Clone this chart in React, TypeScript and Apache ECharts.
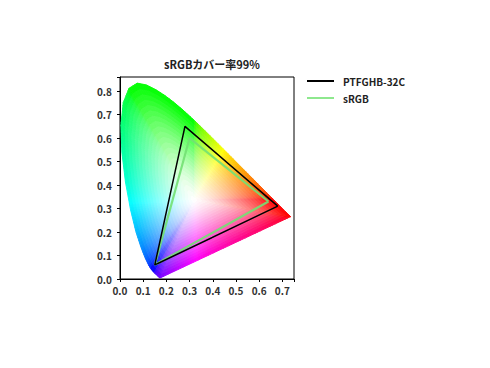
import React, { useEffect, useRef } from "react";
import * as echarts from "echarts";

// CIE 1931 2° spectral locus chromaticity (380–700 nm)
const LOCUS_X = [
  0.1741, 0.174, 0.1738, 0.1736, 0.1733, 0.173, 0.1726, 0.1721, 0.1714, 0.1703,
  0.1689, 0.1669, 0.1644, 0.1611, 0.1566, 0.151, 0.144, 0.1355, 0.1241, 0.1096,
  0.0913, 0.0687, 0.0454, 0.0235, 0.0082, 0.0039, 0.0139, 0.0389, 0.0743, 0.1142,
  0.1547, 0.1929, 0.2296, 0.2658, 0.3016, 0.3373, 0.3731, 0.4087, 0.4441, 0.4788,
  0.5125, 0.5448, 0.5752, 0.6029, 0.627, 0.6482, 0.6658, 0.6801, 0.6915, 0.7006,
  0.7079, 0.714, 0.719, 0.723, 0.726, 0.7283, 0.73, 0.7311, 0.732, 0.7327,
  0.7334, 0.7344, 0.7347,
];
const LOCUS_Y = [
  0.005, 0.005, 0.0049, 0.0049, 0.0048, 0.0048, 0.0048, 0.0048, 0.0051, 0.0058,
  0.0069, 0.0086, 0.0109, 0.0138, 0.0177, 0.0227, 0.0297, 0.0399, 0.0578, 0.0868,
  0.1327, 0.2007, 0.295, 0.4127, 0.5384, 0.6548, 0.7502, 0.812, 0.8338, 0.8262,
  0.8059, 0.7816, 0.7543, 0.7243, 0.6923, 0.6589, 0.6245, 0.5896, 0.5547, 0.5202,
  0.4866, 0.4544, 0.4242, 0.3965, 0.3725, 0.3514, 0.334, 0.3197, 0.3083, 0.2993,
  0.292, 0.2859, 0.2809, 0.277, 0.274, 0.2717, 0.27, 0.2689, 0.268, 0.2673,
  0.2666, 0.2656, 0.2653,
];
const WHITE_POINT = [0.32, 0.335];

const SERIES_NAMES = ["PTFGHB-32C", "sRGB"];
const PANEL_X = [0.68, 0.28, 0.15, 0.68];
const PANEL_Y = [0.31, 0.65, 0.06, 0.31];
const SRGB_X = [0.64, 0.3, 0.15, 0.64];
const SRGB_Y = [0.33, 0.6, 0.06, 0.33];

const TITLE = "sRGBカバー率99%";
const X_MAX = 0.75;
const Y_MAX = 0.86;
const X_LABEL_MAX = 0.7;
const Y_LABEL_MAX = 0.8;

const FONT = '"Noto Sans CJK JP", "Noto Sans", sans-serif';

function enc(v: number) {
  return v <= 0.0031308 ? v * 12.92 : 1.055 * Math.pow(v, 1 / 2.4) - 0.055;
}

// saturated colour of a chromaticity (sRGB, normalised to max)
function edgeRGB(x: number, y: number) {
  const X = x / y;
  const Y = 1;
  const Z = (1 - x - y) / y;
  const r = enc(3.2406 * X - 1.5372 * Y - 0.4986 * Z);
  const g = enc(-0.9689 * X + 1.8758 * Y + 0.0415 * Z);
  const b = enc(0.0557 * X - 0.204 * Y + 1.057 * Z);
  const m = Math.max(r, g, b);
  const c = (v: number) => Math.min(1, Math.max(0, v / m));
  return [c(r), c(g), c(b)];
}

function mixColor(rgb: number[], s: number) {
  const c = (v: number) => Math.round((1 - s + v * s) * 255);
  return `rgb(${c(rgb[0])},${c(rgb[1])},${c(rgb[2])})`;
}

function buildFan(rings: number, step: number) {
  const n = LOCUS_X.length;
  const items: number[][] = [];
  for (let i = 0; i < n; i++) {
    const ax = LOCUS_X[i];
    const ay = LOCUS_Y[i];
    const bx = LOCUS_X[(i + 1) % n];
    const by = LOCUS_Y[(i + 1) % n];
    const len = Math.hypot(bx - ax, by - ay);
    const pieces = Math.max(1, Math.ceil(len / step));
    for (let j = 0; j < pieces; j++) {
      const t0 = j / pieces;
      const t1 = (j + 1) / pieces;
      const x0 = ax + (bx - ax) * t0;
      const y0 = ay + (by - ay) * t0;
      const x1 = ax + (bx - ax) * t1;
      const y1 = ay + (by - ay) * t1;
      for (let k = 0; k < rings; k++) items.push([x0, y0, x1, y1, k]);
    }
  }
  return items;
}

export default function App() {
  const ref = useRef<HTMLDivElement>(null);
  useEffect(() => {
    if (!ref.current) return;
    const chart = echarts.init(ref.current, undefined, { renderer: "svg" });
    const RINGS = 22;
    const GAMMA = 1.3;
    const fan = buildFan(RINGS, 0.012);
    const [wx, wy] = WHITE_POINT;

    const labelFmt = (lim: number) => (v: number) =>
      Math.abs(v * 10 - Math.round(v * 10)) < 1e-6 && v <= lim + 1e-9 ? v.toFixed(1) : "";

    const axisCommon = {
      type: "value" as const,
      min: 0,
      interval: 0.1,
      splitLine: { show: false },
      axisLine: { show: true, lineStyle: { color: "#000", width: 1 } },
      axisTick: { show: true, inside: false, length: 3, lineStyle: { color: "#000" } },
    };
    const labelStyle = {
      fontFamily: FONT,
      fontSize: 10,
      fontWeight: "bold" as const,
      color: "#333",
    };

    chart.setOption({
      animation: false,
      title: {
        text: TITLE,
        left: 207,
        textAlign: "center",
        top: 53,
        textStyle: { fontFamily: FONT, fontSize: 11, fontWeight: "bold", color: "#222" },
      },
      legend: {
        data: SERIES_NAMES,
        orient: "vertical",
        left: 302,
        top: 71,
        icon: "rect",
        itemWidth: 27,
        itemHeight: 2,
        itemGap: 7,
        textStyle: { fontFamily: FONT, fontSize: 10, fontWeight: "bold", color: "#222", padding: [0, 0, 0, 4] },
      },
      grid: {
        left: 120,
        top: 77,
        width: 174,
        height: 202,
        show: true,
        borderColor: "#000",
        borderWidth: 1,
        backgroundColor: "transparent",
      },
      xAxis: {
        ...axisCommon,
        max: X_MAX,
        axisLabel: { ...labelStyle, formatter: labelFmt(X_LABEL_MAX), margin: 6 },
      },
      yAxis: {
        ...axisCommon,
        max: Y_MAX,
        axisLabel: { ...labelStyle, formatter: labelFmt(Y_LABEL_MAX), margin: 8 },
      },
      series: [
        {
          type: "custom",
          name: "locus",
          silent: true,
          z: 1,
          dimensions: ["x0", "y0", "x1", "y1", "k"],
          encode: { x: [0, 2], y: [1, 3] },
          data: fan,
          renderItem: (params: any, api: any) => {
            const x0 = api.value(0);
            const y0 = api.value(1);
            const x1 = api.value(2);
            const y1 = api.value(3);
            const k = api.value(4);
            const ta = k / RINGS;
            const tb = (k + 1) / RINGS;
            const p = (x: number, y: number, t: number) =>
              api.coord([wx + (x - wx) * t, wy + (y - wy) * t]);
            const pts = [p(x0, y0, ta), p(x1, y1, ta), p(x1, y1, tb), p(x0, y0, tb)];
            const tm = (ta + tb) / 2;
            const rgb = edgeRGB((x0 + x1) / 2, (y0 + y1) / 2);
            const col = mixColor(rgb, Math.pow(tm, GAMMA));
            return {
              type: "polygon",
              shape: { points: pts },
              style: { fill: col, stroke: col, lineWidth: 1, lineJoin: "round" },
              silent: true,
            };
          },
        },
        {
          type: "line",
          name: SERIES_NAMES[0],
          z: 5,
          symbol: "none",
          data: PANEL_X.map((x, i) => [x, PANEL_Y[i]]),
          lineStyle: { color: "#000", width: 1.5 },
          itemStyle: { color: "#000" },
        },
        {
          type: "line",
          name: SERIES_NAMES[1],
          z: 4,
          symbol: "none",
          data: SRGB_X.map((x, i) => [x, SRGB_Y[i]]),
          lineStyle: { color: "rgba(115,225,115,0.9)", width: 2.2 },
          itemStyle: { color: "rgba(130,230,130,0.9)" },
        },
      ],
    });
    return () => chart.dispose();
  }, []);
  return (
    <div
      ref={ref}
      style={{ position: "fixed", left: 0, top: 0, width: 490, height: 368, background: "#fff" }}
    />
  );
}
